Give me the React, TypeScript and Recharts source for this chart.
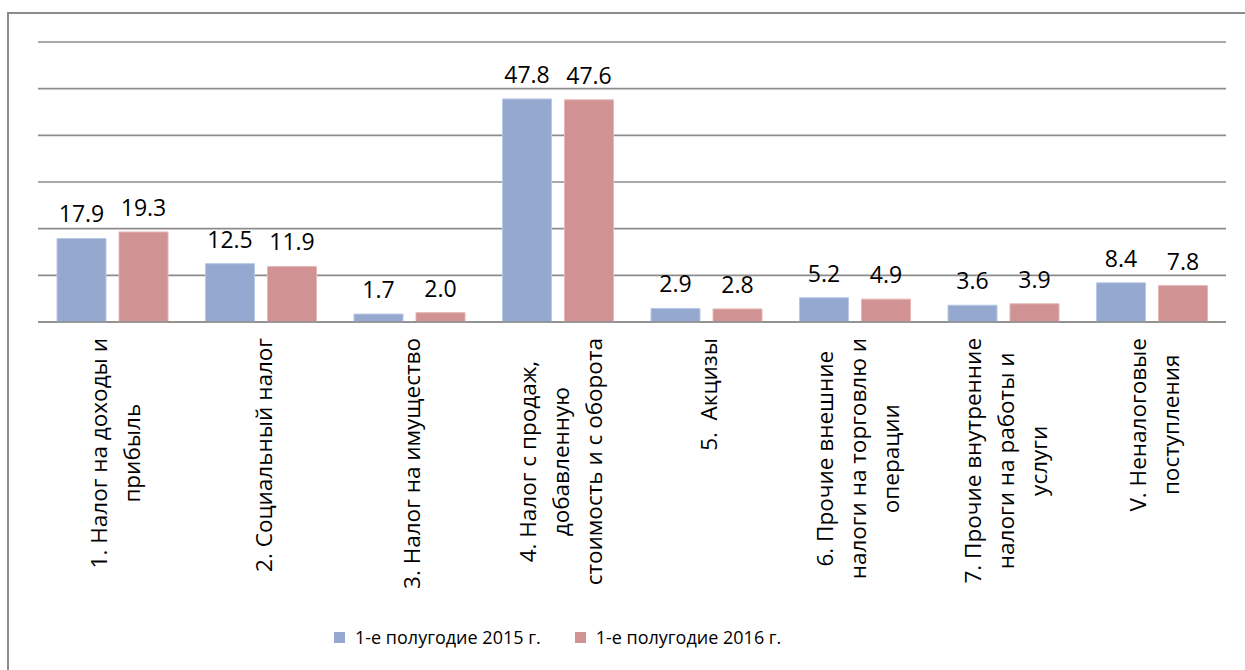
import React from "react"
import { BarChart, Bar, XAxis, YAxis, CartesianGrid, LabelList, Legend } from "recharts"

const categories = [
  "1. Налог на доходы и\nприбыль",
  "2. Социальный налог",
  "3. Налог на имущество",
  "4. Налог с продаж,\nдобавленную\nстоимость и с оборота",
  "5.  Акцизы",
  "6. Прочие внешние\nналоги на торговлю и\nоперации",
  "7. Прочие внутренние\nналоги на работы и\nуслуги",
  "V. Неналоговые\nпоступления",
]
const values2015 = [17.9, 12.5, 1.7, 47.8, 2.9, 5.2, 3.6, 8.4]
const values2016 = [19.3, 11.9, 2.0, 47.6, 2.8, 4.9, 3.9, 7.8]
const yTicks = [0, 10, 20, 30, 40, 50, 60]
const seriesNames = ["1-е полугодие 2015 г.", "1-е полугодие 2016 г."]

const FONT = '"Open Sans", sans-serif'
const BLUE = "#95a9d0"
const RED = "#d09292"
const GRID = "#8c8c8c"

const data = categories.map((name, i) => ({
  name,
  a: values2015[i],
  b: values2016[i],
}))

let canvas: HTMLCanvasElement | null = null
const textWidth = (text: string, size: number) => {
  if (!canvas) canvas = document.createElement("canvas")
  const ctx = canvas.getContext("2d")!
  ctx.font = `${size}px "Open Sans"`
  return ctx.measureText(text).width
}

const TICK_SIZE = 22.5
const LINE_GAP = 33

const CategoryTick = ({ x, y, payload }: any) => {
  const lines: string[] = String(payload.value).split("\n")
  const w = Math.max(...lines.map((l) => textWidth(l, TICK_SIZE)))
  const n = lines.length
  return (
    <g transform={`translate(${x + 2},${y})`}>
      <text
        transform="rotate(-90)"
        textAnchor="middle"
        dominantBaseline="central"
        fontFamily={FONT}
        fontSize={TICK_SIZE}
        fill="#000"
        style={{ whiteSpace: "pre" }}
      >
        {lines.map((l, i) => (
          <tspan key={i} x={-w / 2} y={(i - (n - 1) / 2) * LINE_GAP} dominantBaseline="central">
            {l}
          </tspan>
        ))}
      </text>
    </g>
  )
}

const LegendContent = () => (
  <div
    style={{
      display: "flex",
      alignItems: "center",
      height: 26,
      fontFamily: FONT,
      fontSize: 18,
      color: "#000",
      whiteSpace: "nowrap",
    }}
  >
    {seriesNames.map((s, i) => (
      <span key={s} style={{ display: "flex", alignItems: "center", marginRight: i === 0 ? 34 : 0 }}>
        <span
          style={{
            display: "inline-block",
            width: 11,
            height: 11,
            background: i === 0 ? BLUE : RED,
            marginRight: 10,
          }}
        />
        {s}
      </span>
    ))}
  </div>
)

export default function App() {
  return (
    <div
      style={{
        position: "absolute",
        left: 0,
        top: 0,
        width: 1245,
        height: 670,
        background: "#fff",
        overflow: "hidden",
      }}
    >
      <div
        style={{
          position: "absolute",
          left: 7,
          top: 12,
          width: 1300,
          height: 700,
          borderLeft: `2px solid ${GRID}`,
          borderTop: `2px solid ${GRID}`,
        }}
      />
      <BarChart
        width={1245}
        height={670}
        data={data}
        margin={{ top: 42, right: 19, left: 38, bottom: 58 }}
        barSize={49}
        barGap={13}
        style={{ position: "absolute", left: 0, top: 0 }}
      >
        <CartesianGrid vertical={false} stroke={GRID} strokeWidth={1.6} />
        <YAxis hide domain={[0, 60]} ticks={yTicks} />
        <XAxis
          dataKey="name"
          interval={0}
          height={290}
          tickLine={false}
          tickSize={0}
          tickMargin={16}
          axisLine={{ stroke: GRID, strokeWidth: 1.6 }}
          tick={<CategoryTick />}
        />
        <Legend
          layout="horizontal"
          verticalAlign="middle"
          align="center"
          content={<LegendContent />}
          wrapperStyle={{ top: 624, left: 334, width: "auto" }}
        />
        <Bar dataKey="a" name={seriesNames[0]} fill={BLUE} stroke="#b9c8e4" strokeWidth={1} isAnimationActive={false}>
          <LabelList
            dataKey="a"
            position="top"
            offset={16}
            formatter={(v: any) => Number(v).toFixed(1)}
            style={{ fontFamily: FONT, fontSize: 23, fill: "#000" }}
          />
        </Bar>
        <Bar dataKey="b" name={seriesNames[1]} fill={RED} stroke="#e6b6b6" strokeWidth={1} isAnimationActive={false}>
          <LabelList
            dataKey="b"
            position="top"
            offset={16}
            formatter={(v: any) => Number(v).toFixed(1)}
            style={{ fontFamily: FONT, fontSize: 23, fill: "#000" }}
          />
        </Bar>
      </BarChart>
    </div>
  )
}
